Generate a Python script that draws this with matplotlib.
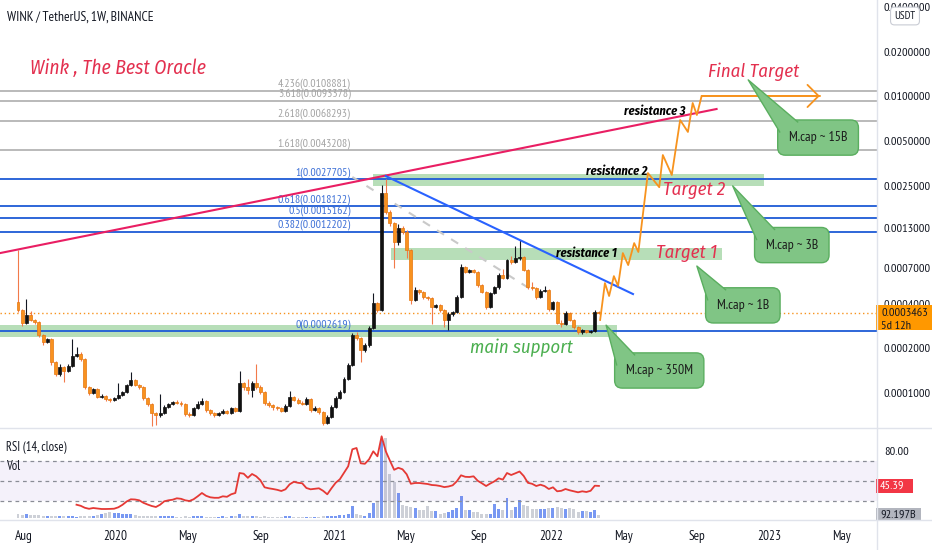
import numpy as np
import pandas as pd
import matplotlib
matplotlib.use("Agg")
import matplotlib.pyplot as plt
import matplotlib.dates as mdates
from matplotlib import font_manager
from matplotlib.lines import Line2D
from matplotlib.patches import Rectangle, Polygon
from matplotlib.ticker import NullLocator, NullFormatter
from matplotlib.transforms import Bbox, TransformedBbox


def first_font(names, style='normal'):
    have = {(f.name, f.style) for f in font_manager.fontManager.ttflist}
    for n in names:
        if (n, style) in have:
            return n
    return 'DejaVu Sans'


ui_font = first_font(['PT Sans Narrow', 'Liberation Sans Narrow', 'Roboto Condensed',
                      'Liberation Sans'])
ital_font = first_font(['Fira Sans Condensed', 'IBM Plex Sans Condensed',
                        'Roboto Condensed', 'Liberation Sans Narrow', 'Liberation Sans'],
                       style='italic')
plt.rcParams['font.family'] = [ui_font, 'DejaVu Sans']

##------------------- weekly candles (prices in micro-USDT) -------------------##
first_week = '2019-07-22'
first_open = 410.7
close_u = [362.8, 296.5, 335.7, 310.6, 301.1, 246.1, 220.8, 231.3, 161.9, 134.4,
           149.8, 140.8, 152.2, 177.7, 183.3, 169.6, 109.9, 100.1, 106.5, 94.1,
           95.6, 91.2, 89.8, 92.6, 97.1, 101.7, 113.4, 122.5, 113.4, 109.9,
           92.6, 84.4, 73.4, 71.2, 73.4, 80.5, 84.4, 87.0, 85.7, 84.4,
           72.3, 71.2, 79.3, 84.4, 88.4, 76.9, 73.4, 71.2, 73.4, 75.7,
           73.4, 79.3, 75.7, 116.9, 109.9, 104.9, 116.9, 109.9, 101.7, 85.7,
           83.1, 80.5, 79.3, 75.7, 81.8, 94.1, 89.8, 85.7, 84.4, 91.2,
           76.9, 79.3, 74.5, 62.8, 69.0, 80.5, 92.6, 101.7, 124.4, 154.6,
           246.1, 234.9, 195.0, 210.7, 274.3, 404.4, 362.8, 2226, 1658, 1398,
           1041, 1294, 1216, 919.8, 423.6, 494.7, 479.6, 443.8, 437.0, 380.1,
           391.9, 362.8, 310.6, 341.0, 351.7, 443.8, 706.7, 654.0, 674.5, 654.0,
           534.6, 479.6, 380.1, 472.2, 518.3, 624.2, 595.9, 787.7, 763.7, 812.5,
           825.2, 674.5, 518.3, 510.3, 443.8, 487.1, 494.7, 368.4, 410.7, 296.5,
           291.9, 346.3, 310.6, 278.6, 257.8, 265.9, 257.8, 261.8, 352.0, 346.3]
high_u = [920, 368, 430, 357, 318, 306, 250, 236, 236, 165,
          156, 152, 158, 231, 204, 188, 172, 112, 109, 108,
          98, 97, 93, 94, 117, 104, 116, 139, 125, 116,
          111, 94, 86, 75, 99, 83, 86, 89, 90, 88,
          86, 74, 81, 88, 92, 90, 78, 74.5, 75, 78,
          77, 81, 80.5, 141, 119, 125, 120, 157, 113, 104,
          88, 85, 82, 81, 84, 104, 96, 92, 88, 94,
          93, 82, 81, 76, 71, 83, 96, 105, 128, 160,
          254, 258, 240, 216, 282, 470, 412, 2520, 2770.5, 1700,
          1420, 1380, 1330, 1250, 935, 520, 505, 487, 452, 442,
          400, 398, 370, 350, 360, 455, 740, 720, 690, 685,
          665, 545, 490, 480, 530, 640, 690, 800, 840, 978,
          1074, 840, 690, 560, 520, 500, 530, 505, 420, 418,
          310, 356, 350, 316, 283, 270, 268, 266, 362, 356]
low_u = [352, 283, 290, 305, 292, 240, 210, 216, 155, 130,
         130, 119, 138, 150, 174, 165, 106, 97, 98, 92,
         92, 89, 87.5, 88, 91, 95, 100, 111, 111, 107,
         90, 82, 60, 61, 69, 72, 79, 83, 84, 82,
         70, 69, 70, 78, 83, 75, 71.5, 69.5, 70, 72,
         72, 72.5, 74, 75, 105, 98, 94, 107, 99, 83,
         81, 77, 77, 74, 75, 80, 88, 84, 82.5, 83,
         75, 75.5, 72.5, 61, 61.5, 68, 79, 91, 100, 122,
         152, 228, 162, 190, 206, 270, 352, 355, 1600, 1340,
         696, 1000, 1180, 812, 400, 415, 465, 430, 425, 290,
         372, 352, 279, 265, 333, 345, 435, 640, 640, 640,
         520, 470, 370, 372, 462, 505, 585, 585, 740, 750,
         790, 660, 505, 495, 432, 435, 480, 360, 362, 290,
         278, 288, 305, 272, 250, 252, 253, 255, 258, 340]
# weekly volume, billions of WIN
volume_b = [124, 92, 124, 92, 92, 92, 62, 62, 62, 62,
            62, 62, 62, 62, 46, 62, 62, 62, 62, 92,
            124, 155, 184, 155, 155, 124, 124, 124, 92, 62,
            62, 62, 62, 62, 62, 62, 62, 62, 46, 46,
            62, 46, 62, 62, 62, 46, 46, 46, 46, 62,
            46, 62, 62, 124, 62, 62, 62, 62, 46, 62,
            46, 46, 46, 46, 62, 62, 46, 46, 46, 46,
            46, 46, 46, 62, 62, 62, 62, 77, 92, 124,
            368, 124, 92, 62, 155, 460, 520, 2390, 2450, 1350,
            1100, 770, 400, 370, 340, 307, 245, 245, 368, 215,
            215, 124, 155, 184, 245, 307, 675, 245, 245, 184,
            184, 124, 124, 124, 430, 276, 245, 614, 245, 338,
            552, 400, 368, 276, 276, 276, 276, 307, 307, 338,
            307, 276, 307, 276, 184, 215, 215, 184, 245, 92.197]
# RSI(14) from the 15th candle on
rsi_first = 15
rsi = [26.6, 25.5, 23.5, 22.5, 23.3, 22.8, 22.3, 22.3, 22.4, 22.6,
       24.0, 26.5, 29.8, 32.0, 31.8, 31.0, 28.5, 26.8, 25.3, 24.3,
       26.6, 30.0, 31.0, 31.6, 33.0, 32.5, 31.0, 30.3, 32.0, 35.0,
       38.3, 35.5, 34.0, 33.5, 33.5, 35.0, 34.5, 37.0, 38.3, 58.3,
       57.6, 53.5, 57.3, 55.0, 51.0, 44.0, 43.0, 42.3, 41.5, 40.3,
       42.0, 47.0, 49.5, 48.5, 48.0, 43.3, 42.0, 42.5, 43.0, 40.5,
       37.0, 43.0, 48.5, 52.0, 58.5, 65.0, 82.0, 83.3, 68.0, 67.5,
       72.0, 80.0, 75.0, 95.0, 80.0, 70.5, 61.5, 63.5, 62.0, 57.0,
       47.5, 48.3, 48.3, 47.8, 47.3, 46.3, 46.0, 45.3, 44.2, 44.8,
       46.0, 50.0, 56.0, 54.5, 54.3, 55.0, 50.5, 48.0, 45.3, 47.8,
       50.0, 53.0, 51.7, 58.3, 56.3, 58.0, 59.8, 55.3, 48.5, 47.5,
       45.3, 46.6, 45.2, 42.3, 44.0, 40.0, 40.5, 42.3, 41.0, 40.0,
       39.0, 40.0, 39.3, 40.5, 45.6, 45.39]

##------------------------------ drawings ------------------------------##
fib_ratio = ['4.236', '3.618', '2.618', '1.618', '1', '0.618', '0.5', '0.382', '0']
fib_price = [0.0108881, 0.0093378, 0.0068293, 0.0043208, 0.0027705,
             0.0018122, 0.0015162, 0.0012202, 0.0002619]
fib_label_date = '2021-01-29'

zone_start = ['2019-06-01', '2021-04-07', '2021-03-08']
zone_end = ['2022-04-20', '2022-10-13', '2022-12-22']
zone_low = [0.000239, 0.000788, 0.00249]
zone_high = [0.000287, 0.000949, 0.00300]

pink_dates = ['2019-06-22', '2022-10-04']
pink_price = [0.000878, 0.00821]
blue_dates = ['2021-03-29', '2022-05-17']
blue_price = [0.00290, 0.000465]
dash_dates = ['2021-02-01', '2021-12-04']
dash_price = [0.00286, 0.00048]

proj_dates = ['2022-03-23', '2022-03-31', '2022-04-07', '2022-04-15', '2022-04-22',
              '2022-04-30', '2022-05-09', '2022-05-19', '2022-05-26', '2022-06-11',
              '2022-06-30', '2022-07-06', '2022-07-21', '2022-08-04', '2022-08-17',
              '2022-08-25', '2022-09-01', '2022-09-09', '2023-03-26']
proj_price = [0.000311, 0.000551, 0.000451, 0.000614, 0.000527,
              0.000878, 0.000729, 0.001025, 0.000893, 0.00304,
              0.00244, 0.00402, 0.00295, 0.00692, 0.00575,
              0.00901, 0.00748, 0.01005, 0.01005]

resist_text = ['resistance 1', 'resistance 2', 'resistance 3']
resist_date = ['2022-04-20', '2022-02-27', '2022-05-02']
resist_price = [0.000878, 0.00314, 0.00796]
resist_align = ['right', 'left', 'left']

target_text = ['Target 1', 'Target 2', 'Final Target']
target_date = ['2022-06-25', '2022-07-06', '2022-09-20']
target_price = [0.000878, 0.00234, 0.0146]

callout_text = ['M.cap ~ 15B', 'M.cap ~ 3B', 'M.cap ~ 1B', 'M.cap ~ 350M']
callout_box_date = ['2023-03-23', '2023-02-07', '2022-11-17', '2022-06-30']
callout_box_price = [0.00527, 0.000994, 0.000390, 0.000142]
callout_tip_date = ['2022-11-26', '2022-10-31', '2022-09-01', '2022-04-02']
callout_tip_price = [0.0129, 0.00249, 0.000718, 0.000287]

price_ticks = [0.04, 0.02, 0.01, 0.005, 0.0025, 0.0013, 0.0007, 0.0004, 0.0002, 0.0001]
time_ticks = ['2019-08-01', '2020-01-01', '2020-05-01', '2020-09-01', '2021-01-01',
              '2021-05-01', '2021-09-01', '2022-01-01', '2022-05-01', '2022-09-01',
              '2023-01-01', '2023-05-01']
time_labels = ['Aug', '2020', 'May', 'Sep', '2021', 'May', 'Sep', '2022',
               'May', 'Sep', '2023', 'May']

##------------------------------ plot ------------------------------##
d = mdates.datestr2num
W, H = 932, 550
fx = lambda px: px / W
fy = lambda py: 1 - py / H

weeks = mdates.date2num(pd.date_range(first_week, periods=len(close_u), freq='7D'))
c = np.array(close_u) * 1e-6
o = np.r_[first_open * 1e-6, c[:-1]]
hi = np.array(high_u) * 1e-6
lo = np.array(low_u) * 1e-6
up = c >= o

red = '#e3304f'
orange = '#f7931e'
txt_col = '#131722'
box_fc, box_ec = '#80c585', '#5aae5f'
ital = [ital_font, 'DejaVu Sans']

fig = plt.figure(figsize=(9.32, 5.5), dpi=100)
fig.patch.set_facecolor('white')

ax = fig.add_axes([0, fy(428), fx(877), fy(0) - fy(428)])
ax.set_yscale('log')
ax.set_xlim(d(first_week) - 30.15, d(first_week) + 1438.7)
ax.set_ylim(5.818e-5, 0.04455)
for s in ax.spines.values():
    s.set_visible(False)
ax.yaxis.tick_right()
ax.set_yticks(price_ticks)
ax.set_yticklabels([f'{v:.7f}' for v in price_ticks])
ax.yaxis.set_minor_locator(NullLocator())
ax.yaxis.set_minor_formatter(NullFormatter())
ax.tick_params(axis='y', length=0, pad=5, labelsize=8.8, labelcolor=txt_col)
ax.tick_params(axis='x', bottom=False, labelbottom=False)

# zones
for zs, ze, zl, zh in zip(zone_start, zone_end, zone_low, zone_high):
    ax.fill_between([d(zs), d(ze)], zl, zh, color='#a5d6a7', alpha=0.8, lw=0, zorder=1)

# fib levels
for r, p in zip(fib_ratio, fib_price):
    ext = float(r) > 1
    lc = '#b4b4b4' if ext else '#1e5bd6'
    tc = '#a3a3a3' if ext else '#3c6fd6'
    ax.axhline(p, color=lc, lw=1.3, zorder=1.5)
    ax.annotate(f'{r}({p:.7f})', xy=(d(fib_label_date), p), xytext=(0, 1.0),
                textcoords='offset points', ha='right', va='bottom',
                color=tc, fontsize=8.4, zorder=2)

# current price line
ax.axhline(c[-1], color=orange, ls=(0, (1, 2)), lw=1, zorder=1.6)

# candles
body_w = 5.0
wick_col = np.where(up, '#131722', '#f27a4a')
ax.vlines(weeks, lo, hi, colors=wick_col, lw=0.8, zorder=3)
bot = np.minimum(o, c)
top = np.maximum(np.maximum(o, c), bot * 1.012)
ax.bar(weeks, top - bot, bottom=bot, width=body_w,
       color=np.where(up, '#111111', '#f8921f'),
       edgecolor=np.where(up, '#111111', '#e6760f'), lw=0.5, zorder=3.5)

# trend lines
ax.plot([d(x) for x in pink_dates], pink_price, color='#e91e63', lw=1.5, zorder=4)
ax.plot([d(x) for x in blue_dates], blue_price, color='#2962ff', lw=1.5, zorder=4)
ax.plot([d(x) for x in dash_dates], dash_price, color='#c9c9c9', lw=1.5,
        ls=(0, (4, 4)), zorder=2.5)

# projection path
pd_num = [d(x) for x in proj_dates]
ax.plot(pd_num, proj_price, color=orange, lw=1.3, zorder=4.5)
ax.annotate('', xy=(pd_num[-1], proj_price[-1]), xytext=(pd_num[-2], proj_price[-2]),
            arrowprops=dict(arrowstyle='->,head_length=0.8,head_width=0.8',
                            color=orange, lw=1.3, shrinkA=0, shrinkB=0), zorder=4.5)

# text drawings
ax.text(d('2019-08-11'), 0.0155, 'Wink , The Best Oracle', color=red, fontsize=14,
        fontstyle='italic', family=ital, ha='left', va='center', zorder=5)
for t, dt, p, al in zip(resist_text, resist_date, resist_price, resist_align):
    ax.text(d(dt), p, t, ha=al, va='center', fontsize=9, fontweight='bold',
            fontstyle='italic', family=ital, color='black', zorder=5)
for t, dt, p in zip(target_text, target_date, target_price):
    ax.text(d(dt), p, t, ha='left', va='center', fontsize=13.5, fontstyle='italic',
            family=ital, color=red, zorder=5)
ax.text(d('2021-08-17'), 0.000201, 'main support', ha='left', va='center', fontsize=13.5,
        fontstyle='italic', family=ital, color='#4caf50', zorder=5)

callouts = []
for t, bd, bp in zip(callout_text, callout_box_date, callout_box_price):
    callouts.append(ax.text(d(bd), bp, t, ha='center', va='center', fontsize=10,
                            color='#1b1b1b', zorder=6,
                            bbox=dict(boxstyle='round,pad=0.8,rounding_size=0.55',
                                      fc=box_fc, ec=box_ec, lw=1)))

##------------------------------ RSI / volume pane ------------------------------##
axv = fig.add_axes([0, fy(520), fx(877), fy(429) - fy(520)])
axv.set_xlim(ax.get_xlim())
axv.bar(weeks, volume_b, width=body_w, color=np.where(up, '#7898f2', '#cdd0d7'), lw=0)
axv.set_ylim(-61.4, 2732)
axv.set_yticks([])
axv.set_xticks([d(x) for x in time_ticks])
axv.set_xticklabels(time_labels)
axv.tick_params(axis='x', length=0, pad=7, labelsize=9.5, labelcolor=txt_col)
for s in axv.spines.values():
    s.set_visible(False)

axr = axv.twinx()
axr.set_ylim(11.3, 102.3)
axr.axhspan(30, 70, color='#7e57c2', alpha=0.08, lw=0)
for lv in (70, 50, 30):
    axr.axhline(lv, color='#8a8d96', ls=(0, (3, 3)), lw=0.9)
axr.plot(weeks[rsi_first - 1:], rsi, color='#e53935', lw=1.3)
axr.set_yticks([80])
axr.set_yticklabels(['80.00'])
axr.tick_params(axis='y', length=0, pad=5, labelsize=8.8, labelcolor=txt_col)
for s in axr.spines.values():
    s.set_visible(False)

##------------------------------ chrome ------------------------------##
for yy in (428, 520):
    fig.add_artist(Line2D([0, 1], [fy(yy), fy(yy)], transform=fig.transFigure,
                          color='#e0e3eb', lw=1))
fig.add_artist(Line2D([fx(877), fx(877)], [0, 1], transform=fig.transFigure,
                      color='#e0e3eb', lw=1))

fig.text(fx(7), fy(17), 'WINK / TetherUS, 1W, BINANCE', va='center', fontsize=9.8,
         color=txt_col)
fig.text(fx(6), fy(448), 'RSI (14, close)', va='center', fontsize=9, color=txt_col)
fig.text(fx(6), fy(467), 'Vol', va='center', fontsize=9, color=txt_col)
fig.text(fx(905), fy(16), 'USDT', ha='center', va='center', fontsize=8, color=txt_col,
         bbox=dict(boxstyle='round,pad=0.35', fc='white', ec='#c9ccd4', lw=0.8))


def fig_y(axis, value):
    disp = axis.transData.transform((axis.get_xlim()[0], value))
    return fig.transFigure.inverted().transform(disp)[1]


# last price tag
py = fig_y(ax, c[-1])
fig.add_artist(Rectangle((fx(876), py - 17 / H), 56 / W, 25 / H,
                         transform=fig.transFigure, fc='#ff9800', ec='none'))
fig.text(fx(881), py, f'{c[-1]:.7f}', va='center', fontsize=8.8, color=txt_col)
fig.text(fx(881), py - 13 / H, '5d 12h', va='center', fontsize=8.8, color=txt_col)

# last RSI tag
py = fig_y(axr, rsi[-1])
fig.add_artist(Rectangle((fx(876), py - 7 / H), 37 / W, 14 / H,
                         transform=fig.transFigure, fc='#f23645', ec='none'))
fig.text(fx(880), py, f'{rsi[-1]:.2f}', va='center', fontsize=8.8, color='white')

# last volume tag, clipped by the pane
clip = TransformedBbox(Bbox([[fx(876), fy(520)], [1, fy(429)]]), fig.transFigure)
py = fig_y(axv, volume_b[-1])
r = Rectangle((fx(876), py - 7 / H), 45 / W, 14 / H, transform=fig.transFigure,
              fc='#b2b5be', ec='none')
fig.add_artist(r)
r.set_clip_box(clip)
t = fig.text(fx(880), py, f'{volume_b[-1]:.3f}B', va='center', fontsize=8.8, color=txt_col)
t.set_clip_box(clip)
t.set_clip_on(True)

# callout tails: from the box's top-left corner to the tip
fig.canvas.draw()
to_data = ax.transData.inverted()
for txt, td, tp in zip(callouts, callout_tip_date, callout_tip_price):
    bb = txt.get_bbox_patch().get_window_extent()
    tip = ax.transData.transform((d(td), tp))
    b1 = (bb.x0 + 2, bb.y1 - 12)
    b2 = (bb.x0 + 20, bb.y1 - 2)
    pts = to_data.transform([tip, b1, b2])
    ax.add_patch(Polygon(pts, closed=True, fc=box_fc, ec='none', zorder=6.5))
    ax.plot(pts[[1, 0, 2], 0], pts[[1, 0, 2], 1], color=box_ec, lw=1, zorder=6.6)

fig.savefig('out.png', dpi=100)
